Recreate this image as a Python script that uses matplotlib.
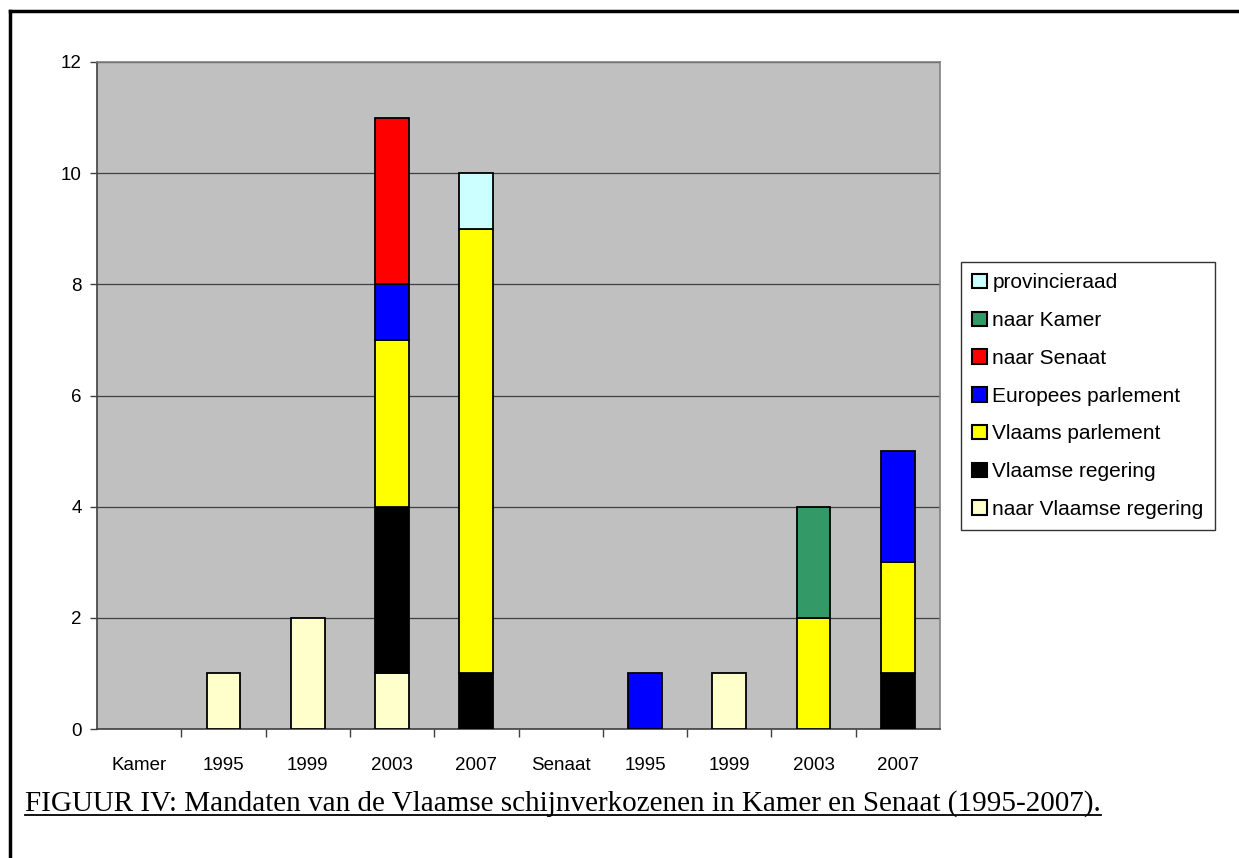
import matplotlib
matplotlib.use("Agg")
import matplotlib.pyplot as plt
from matplotlib.lines import Line2D
from matplotlib.patches import Patch
import numpy as np

categories = ["Kamer", "1995", "1999", "2003", "2007", "Senaat", "1995", "1999", "2003", "2007"]
series_names = ["naar Vlaamse regering", "Vlaamse regering", "Vlaams parlement",
                "Europees parlement", "naar Senaat", "naar Kamer", "provincieraad"]
naar_vlaamse_regering = [0, 1, 2, 1, 0, 0, 0, 1, 0, 0]
vlaamse_regering      = [0, 0, 0, 3, 1, 0, 0, 0, 0, 1]
vlaams_parlement      = [0, 0, 0, 3, 8, 0, 0, 0, 2, 2]
europees_parlement    = [0, 0, 0, 1, 0, 0, 1, 0, 0, 2]
naar_senaat           = [0, 0, 0, 3, 0, 0, 0, 0, 0, 0]
naar_kamer            = [0, 0, 0, 0, 0, 0, 0, 0, 2, 0]
provincieraad         = [0, 0, 0, 0, 1, 0, 0, 0, 0, 0]
series_values = [naar_vlaamse_regering, vlaamse_regering, vlaams_parlement,
                 europees_parlement, naar_senaat, naar_kamer, provincieraad]
colors = ["#FFFFCC", "#000000", "#FFFF00", "#0000FF", "#FF0000", "#339966", "#CCFFFF"]
yticks = [0, 2, 4, 6, 8, 10, 12]
caption = "FIGUUR IV: Mandaten van de Vlaamse schijnverkozenen in Kamer en Senaat (1995-2007)."

W, H = 1239, 858
fig = plt.figure(figsize=(W / 100, H / 100), dpi=100)
fig.patch.set_facecolor("white")
plt.rcParams["font.family"] = ["Liberation Sans", "DejaVu Sans"]

ax = fig.add_axes([97 / W, 1 - 729 / H, (940 - 97) / W, (729 - 62) / H])
ax.set_facecolor("#C0C0C0")

x = np.arange(len(categories))
bottom = np.zeros(len(categories))
handles = []
for name, vals, col in zip(series_names, series_values, colors):
    v = np.array(vals, dtype=float)
    b = ax.bar(x, v, width=0.4, bottom=bottom, color=col, edgecolor="black",
               linewidth=1.3, zorder=3)
    for patch, val in zip(b.patches, v):
        if val == 0:
            patch.set_visible(False)
    handles.append(Patch(facecolor=col, edgecolor="black", linewidth=1.5, label=name))
    bottom += v

ax.set_xlim(-0.5, len(categories) - 0.5)
ax.set_ylim(0, 12)
ax.set_yticks(yticks)
ax.set_yticklabels([str(t) for t in yticks], fontsize=13.5)
ax.yaxis.grid(True, color="#404040", linewidth=0.9, zorder=1)
ax.set_axisbelow(True)

ax.set_xticks(x)
ax.set_xticklabels(categories, fontsize=13.5)
ax.tick_params(axis="x", length=0, pad=20)
ax.set_xticks(np.arange(0.5, len(categories) - 0.5, 1.0), minor=True)
ax.tick_params(axis="x", which="minor", length=6, width=1, color="#404040", direction="out")
ax.tick_params(axis="y", length=5, width=1, color="#404040", direction="out", pad=6)

for s in ["left", "bottom"]:
    ax.spines[s].set_color("#404040")
    ax.spines[s].set_linewidth(1.2)
for s in ["top", "right"]:
    ax.spines[s].set_color("#808080")
    ax.spines[s].set_linewidth(1.2)

leg = fig.legend(handles[::-1], series_names[::-1], loc="upper left",
                 bbox_to_anchor=(961 / W, 1 - 262 / H), fontsize=15,
                 frameon=True, fancybox=False, edgecolor="black",
                 handlelength=0.7, handleheight=0.7, handletextpad=0.25,
                 labelspacing=0.9, borderpad=0.55, borderaxespad=0)
leg.get_frame().set_linewidth(1.0)

t = fig.text(25 / W, 1 - 804 / H, caption, fontsize=21,
             family=["Liberation Serif", "DejaVu Serif"], va="center", ha="left")
fig.canvas.draw()
bb = t.get_window_extent(fig.canvas.get_renderer())
y_line = (bb.y0 + 2) / H
fig.add_artist(Line2D([bb.x0 / W, bb.x1 / W], [y_line, y_line],
                      transform=fig.transFigure, color="black", linewidth=1.3))

fig.add_artist(Line2D([10 / W, 1.0], [1 - 11 / H, 1 - 11 / H],
                      transform=fig.transFigure, color="black", linewidth=2.5))
fig.add_artist(Line2D([10 / W, 10 / W], [1 - 11 / H, 0],
                      transform=fig.transFigure, color="black", linewidth=2.5))

fig.savefig("out.png", dpi=100)
